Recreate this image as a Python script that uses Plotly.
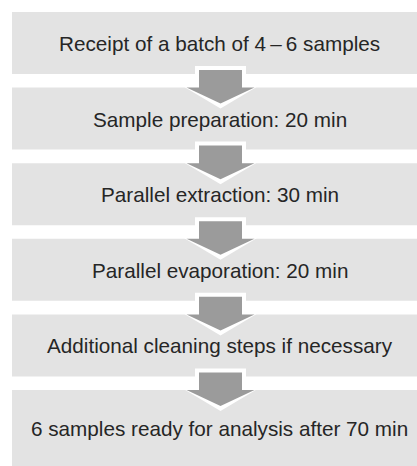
import plotly.graph_objects as go

steps = [
    "Receipt of a batch of 4\u2009\u2013\u20096 samples",
    "Sample preparation: 20 min",
    "Parallel extraction: 30 min",
    "Parallel evaporation: 20 min",
    "Additional cleaning steps if necessary",
    "6 samples ready for analysis after 70 min",
]

W, H = 417, 466
BOX_FILL = "#e3e3e3"
ARROW_FILL = "#9b9b9b"
TEXT_COLOR = "#262626"

left, right = 12, 430
top0, pitch, box_h = 12, 75.6, 62
cx_arrow, cx_text = 220.5, 219.5

fig = go.Figure()
shapes, annotations = [], []
n = len(steps)
for i, label in enumerate(steps):
    t = top0 + i * pitch
    b = t + box_h if i < n - 1 else H + 2
    shapes.append(dict(type="rect", xref="x", yref="y", x0=left, x1=right, y0=t, y1=b,
                       fillcolor=BOX_FILL, line=dict(width=0), layer="below"))
    annotations.append(dict(x=cx_text, y=(t + min(b, H)) / 2 + 0.5, xref="x", yref="y",
                            text=label, showarrow=False,
                            font=dict(family="Liberation Sans, Arial, sans-serif", size=20.7,
                                      color=TEXT_COLOR)))

for i in range(n - 1):
    bot = top0 + i * pitch + box_h
    nxt = top0 + (i + 1) * pitch
    o = 4
    pts_w = [(cx_arrow - 21.5 - o, bot - 4 - o), (cx_arrow + 21.5 + o, bot - 4 - o),
             (cx_arrow + 21.5 + o, nxt - o), (cx_arrow + 34 + 2 * o, nxt - o),
             (cx_arrow, nxt + 16 + o + 1), (cx_arrow - 34 - 2 * o, nxt - o),
             (cx_arrow - 21.5 - o, nxt - o)]
    pts_g = [(cx_arrow - 21.5, bot - 4), (cx_arrow + 21.5, bot - 4),
             (cx_arrow + 21.5, nxt), (cx_arrow + 34, nxt),
             (cx_arrow, nxt + 16), (cx_arrow - 34, nxt),
             (cx_arrow - 21.5, nxt)]
    for pts, col in ((pts_w, "white"), (pts_g, ARROW_FILL)):
        path = "M " + " L ".join(f"{x},{y}" for x, y in pts) + " Z"
        shapes.append(dict(type="path", xref="x", yref="y", path=path,
                           fillcolor=col, line=dict(width=0), layer="above"))

fig.update_layout(
    width=W, height=H, margin=dict(l=0, r=0, t=0, b=0),
    paper_bgcolor="white", plot_bgcolor="white",
    xaxis=dict(range=[0, W], visible=False, fixedrange=True),
    yaxis=dict(range=[H, 0], visible=False, fixedrange=True),
    shapes=shapes, annotations=annotations, showlegend=False,
)
fig.write_html("out.html", config={"displayModeBar": False},
               post_script="document.body.style.margin='0';document.body.style.overflow='hidden';")
